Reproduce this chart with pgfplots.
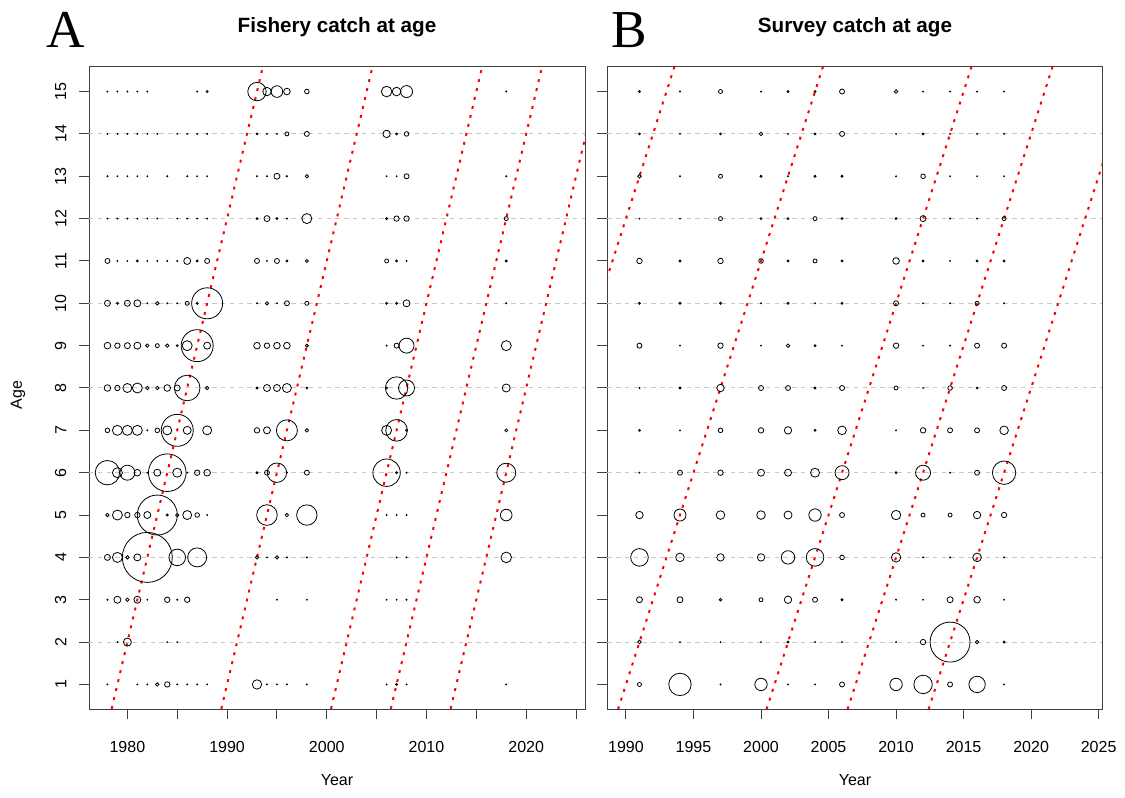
\documentclass[border=0pt]{standalone}
\usepackage{fontspec}
\setmainfont{Liberation Sans}
\newfontfamily\serifbig{Liberation Serif}
\usepackage{pgfplots}
\usepackage{pgfplotstable}
\pgfplotsset{compat=1.18}

% fishery catch at age: year, age, bubble radius (px)
\pgfplotstableread{
yr age r
1978 15 .5
1979 15 .5
1980 15 .5
1981 15 .5
1982 15 .5
1987 15 .5
1988 15 1
1993 15 9.2
1994 15 4.2
1995 15 5.8
1996 15 3.3
1998 15 2.3
2006 15 5.3
2007 15 4.3
2008 15 6
2018 15 .5
1978 14 .5
1979 14 .5
1980 14 .5
1981 14 .5
1982 14 .5
1983 14 .5
1985 14 .5
1986 14 .5
1987 14 .5
1988 14 .5
1993 14 1
1994 14 .5
1995 14 .5
1996 14 2
1998 14 2.5
2006 14 3.7
2007 14 1
2008 14 2.3
1978 13 .5
1979 13 .5
1980 13 .5
1981 13 .5
1982 13 .5
1984 13 .5
1986 13 .5
1987 13 .5
1988 13 .5
1993 13 .5
1994 13 .5
1995 13 3
1996 13 .7
1998 13 1.7
2006 13 .5
2007 13 .5
2008 13 2.5
2018 13 .5
1978 12 .5
1979 12 .5
1980 12 .5
1981 12 .5
1982 12 .5
1983 12 .5
1985 12 .5
1986 12 .5
1987 12 .5
1988 12 .5
1993 12 1
1994 12 3
1995 12 1
1996 12 .5
1998 12 5
2006 12 1
2007 12 2.7
2008 12 2.7
2018 12 2
1978 11 2.5
1979 11 .5
1980 11 .5
1981 11 1
1982 11 .5
1983 11 .5
1984 11 .5
1985 11 .5
1986 11 3.5
1987 11 1
1988 11 2.5
1993 11 2.5
1994 11 .5
1995 11 2.5
1996 11 1
1998 11 1.5
2006 11 2
2007 11 1
2008 11 .5
2018 11 1
1978 10 3
1979 10 1
1980 10 3
1981 10 3.5
1982 10 .5
1983 10 1.7
1984 10 .5
1985 10 .5
1986 10 2
1987 10 1
1988 10 15.5
1993 10 .5
1994 10 1.7
1995 10 .5
1996 10 2.5
1998 10 2
2006 10 1
2007 10 1
2008 10 3.5
2018 10 .5
1978 9 3.3
1979 9 2.7
1980 9 3
1981 9 3.5
1982 9 1.7
1983 9 2
1984 9 1.7
1985 9 1
1986 9 5
1987 9 16
1988 9 3.5
1993 9 3.3
1994 9 2.7
1995 9 3.3
1996 9 3.3
1998 9 1.5
2006 9 .5
2007 9 2.5
2008 9 7.5
2018 9 5
1978 8 3.3
1979 8 2.7
1980 8 4.5
1981 8 5
1982 8 1.7
1983 8 1.7
1984 8 3.3
1985 8 3
1986 8 12.8
1988 8 1.7
1993 8 1
1994 8 3.5
1995 8 3.5
1996 8 4.5
1998 8 1
2006 8 1
2007 8 11.2
2008 8 8
2018 8 4
1978 7 2.3
1979 7 5
1980 7 5
1981 7 5
1982 7 .5
1983 7 2.3
1984 7 4.5
1985 7 16
1986 7 4
1988 7 4.5
1993 7 2.7
1994 7 3.5
1996 7 10.5
1998 7 1.7
2006 7 5
2007 7 10.8
2008 7 1
2018 7 1.5
1978 6 12.2
1979 6 5
1980 6 7.5
1981 6 3.3
1982 6 .5
1983 6 3.5
1984 6 18.8
1985 6 4.5
1986 6 .5
1987 6 2.7
1988 6 3.3
1993 6 1
1994 6 2.5
1995 6 9.7
1996 6 .5
1998 6 2.5
2006 6 13.7
2007 6 1
2008 6 .5
2018 6 9.5
1978 5 1.7
1979 5 5
1980 5 2.7
1981 5 2.7
1982 5 3.5
1983 5 20
1984 5 1
1985 5 1.7
1986 5 4.5
1987 5 2.3
1988 5 .5
1994 5 10.3
1996 5 1.7
1998 5 10.2
2006 5 .5
2007 5 .5
2008 5 .5
2018 5 5.8
1978 4 3
1979 4 5
1980 4 1.7
1981 4 3.5
1982 4 25
1985 4 8.3
1987 4 9.5
1993 4 1.7
1994 4 .5
1995 4 1.7
1996 4 .5
1998 4 .5
2007 4 .5
2008 4 .5
2018 4 5.3
1978 3 .5
1979 3 3.5
1980 3 1.7
1981 3 3.5
1982 3 .5
1984 3 2.7
1985 3 .5
1986 3 2.7
1995 3 .5
1998 3 .5
2006 3 .5
2007 3 .5
2008 3 .5
1979 2 .5
1980 2 4
1984 2 .5
1985 2 .5
1978 1 .5
1981 1 .5
1982 1 .5
1983 1 1.7
1984 1 2.7
1985 1 .5
1986 1 .5
1987 1 .5
1988 1 .5
1993 1 4.7
1994 1 .5
1995 1 .5
1996 1 .5
1998 1 .5
2006 1 .5
2007 1 1
2008 1 .5
2018 1 .5
}\fishery

% survey catch at age
\pgfplotstableread{
yr age r
1991 15 1
1994 15 .5
1997 15 2
2000 15 .5
2002 15 1
2004 15 1
2006 15 2.5
2010 15 1.8
2012 15 .5
2014 15 .5
2016 15 .5
2018 15 .5
1991 14 1
1994 14 .5
1997 14 1
2000 14 1.8
2002 14 .5
2004 14 1
2006 14 2.5
2010 14 .5
2012 14 1
2014 14 .5
2016 14 .5
2018 14 .5
1991 13 1.8
1994 13 .5
1997 13 2
2000 13 1
2002 13 .5
2004 13 1
2006 13 1
2010 13 .5
2012 13 2.3
2014 13 .5
2016 13 .5
2018 13 .5
1991 12 .5
1994 12 .5
1997 12 2
2000 12 1
2002 12 1
2004 12 2
2006 12 1
2010 12 1
2012 12 3
2014 12 .5
2016 12 .5
2018 12 2
1991 11 2.7
1994 11 1
1997 11 2.7
2000 11 2.3
2002 11 1
2004 11 2
2006 11 1
2010 11 3.3
2012 11 1
2014 11 .5
2016 11 1
2018 11 1
1991 10 1
1994 10 1
1997 10 1
2000 10 .5
2002 10 1
2004 10 .5
2006 10 1
2010 10 2.5
2012 10 .5
2014 10 .5
2016 10 2
2018 10 .5
1991 9 2.5
1994 9 .5
1997 9 2.7
2000 9 .5
2002 9 1.8
2004 9 1
2006 9 .5
2010 9 2.7
2012 9 .5
2014 9 .5
2016 9 2.5
2018 9 2.5
1991 8 .5
1994 8 1
1997 8 3.7
2000 8 2.5
2002 8 2.5
2004 8 1
2006 8 2.5
2010 8 2
2012 8 .5
2014 8 2.3
2016 8 1
2018 8 2.5
1991 7 1
1994 7 .5
1997 7 2.3
2000 7 2.7
2002 7 3.7
2004 7 1
2006 7 4.3
2010 7 .5
2012 7 2.7
2014 7 2.5
2016 7 2.5
2018 7 4.3
1991 6 .5
1994 6 2.5
1997 6 2.7
2000 6 3.5
2002 6 3.5
2004 6 4.5
2006 6 7
2010 6 1
2012 6 7.5
2014 6 .5
2016 6 2.5
2018 6 11.7
1991 5 3.7
1994 5 6
1997 5 4.3
2000 5 4.3
2002 5 4
2004 5 6.2
2006 5 2.5
2010 5 4.7
2012 5 2
2014 5 2
2016 5 3.7
2018 5 2.7
1991 4 8.8
1994 4 4.3
1997 4 3.7
2000 4 3.7
2002 4 6.7
2004 4 8.8
2006 4 2.3
2010 4 4.7
2012 4 .5
2014 4 .5
2016 4 4.3
2018 4 .5
1991 3 3
1994 3 3
1997 3 1.3
2000 3 2
2002 3 3.7
2004 3 2.5
2006 3 1
2010 3 .5
2012 3 .5
2014 3 3
2016 3 3.3
2018 3 .5
1991 2 1.8
1994 2 .5
1997 2 .5
2000 2 .5
2002 2 1
2004 2 .5
2006 2 .5
2010 2 .5
2012 2 2.7
2014 2 20
2016 2 1.7
2018 2 1
1991 1 2
1994 1 11.2
1997 1 .5
2000 1 6.2
2002 1 .5
2004 1 .5
2006 1 2.5
2010 1 6.2
2012 1 9.2
2014 1 2.5
2016 1 8.2
2018 1 .5
}\survey

\pgfplotsset{
  bubbleax/.style={
    scale only axis, height=481.5pt, anchor=south west,
    ymin=0.42, ymax=15.58,
    ytick={1,...,15},
    tick align=outside, xtick pos=left, ytick pos=left,
    major tick length=7.5pt,
    axis line style={black!75, line width=0.75pt},
    tick style={black!75, line width=0.75pt},
    ticklabel style={font=\fontsize{12}{14}\selectfont},
    xticklabel shift=13pt,
    extra y ticks={2,4,...,14}, extra y tick labels={},
    extra y tick style={grid=major, major tick length=0pt},
    major grid style={black!22, line width=0.75pt, dash pattern=on 3.3pt off 3.3pt},
  },
  bub/.style={scatter, only marks, mark=o, line width=0.6pt,
    scatter/use mapped color={draw=black},
    visualization depends on={0.75*\thisrow{r} \as \rad},
    scatter/@pre marker code/.append style={/tikz/mark size=\rad pt}},
  coh/.style={red, line width=1.5pt, dash pattern=on 2.2pt off 4.7pt},
}

\begin{document}
\begin{tikzpicture}[x=1pt,y=1pt]
\useasboundingbox (0,0) rectangle (843.75,597.75);

\begin{axis}[bubbleax, at={(66.75pt,66pt)}, width=372pt,
  xmin=1976.15, xmax=2025.9,
  xtick={1980,1985,...,2025},
  xticklabels={1980,,1990,,2000,,2010,,2020,},
  yticklabels={1,2,3,4,5,6,7,8,9,10,11,12,13,14,15},
  yticklabel style={rotate=90, anchor=south},
  yticklabel shift=6pt,
]
  \addplot[bub] table[x=yr, y=age, meta=r]{\fishery};
  \addplot[coh] coordinates {(1978,0) (1994,16)};
  \addplot[coh] coordinates {(1989,0) (2005,16)};
  \addplot[coh] coordinates {(2000,0) (2016,16)};
  \addplot[coh] coordinates {(2006,0) (2022,16)};
  \addplot[coh] coordinates {(2012,0) (2028,16)};
\end{axis}

\begin{axis}[bubbleax, at={(455.5pt,66pt)}, width=371pt,
  xmin=1988.62, xmax=2025.25,
  xtick={1990,1995,...,2025},
  xticklabels={1990,1995,2000,2005,2010,2015,2020,2025},
  yticklabels={,,,,,,,,,,,,,,},
]
  \addplot[bub] table[x=yr, y=age, meta=r]{\survey};
  \addplot[coh] coordinates {(1978,0) (1994,16)};
  \addplot[coh] coordinates {(1989,0) (2005,16)};
  \addplot[coh] coordinates {(2000,0) (2016,16)};
  \addplot[coh] coordinates {(2006,0) (2022,16)};
  \addplot[coh] coordinates {(2012,0) (2028,16)};
\end{axis}

\node[font=\bfseries\fontsize{15.5}{18}\selectfont] at (252.75,577.5) {Fishery catch at age};
\node[font=\bfseries\fontsize{15.5}{18}\selectfont] at (641.25,577.5) {Survey catch at age};
\node[anchor=base, font=\serifbig\fontsize{40}{44}\selectfont] at (49.5,561.75) {A};
\node[anchor=base, font=\serifbig\fontsize{40}{44}\selectfont] at (471.75,561.75) {B};
\node[rotate=90, font=\fontsize{12}{14}\selectfont] at (13.5,301.5) {Age};
\node[font=\fontsize{12}{14}\selectfont] at (252.75,12.75) {Year};
\node[font=\fontsize{12}{14}\selectfont] at (641.25,12.75) {Year};
\end{tikzpicture}
\end{document}
